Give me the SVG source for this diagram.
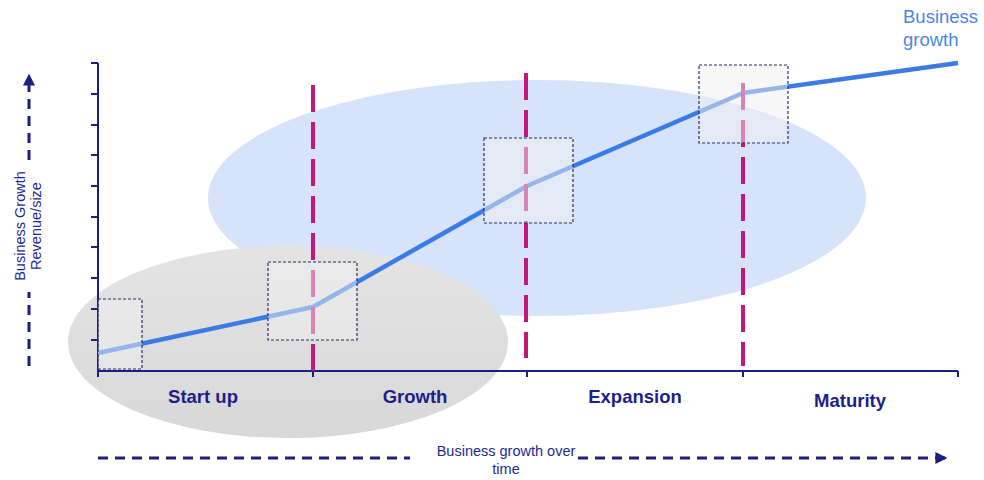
<svg xmlns="http://www.w3.org/2000/svg" width="984" height="480" viewBox="0 0 984 480">
  <defs>
    <linearGradient id="greyFill" x1="0" y1="0" x2="0" y2="1">
      <stop offset="0" stop-color="#e4e4e4"/>
      <stop offset="1" stop-color="#d8d8d8"/>
    </linearGradient>
    <marker id="navyHead" viewBox="0 0 10 10" refX="8" refY="5" markerWidth="4" markerHeight="4" orient="auto" markerUnits="strokeWidth">
      <path d="M0,0 L10,5 L0,10 Z" fill="#1a1f86"/>
    </marker>
    <style>
      .axis { stroke: #1a1f86; stroke-width: 2; fill: none; }
      .tick { stroke: #1a1f86; stroke-width: 2; }
      .phase { stroke: #c2187a; stroke-width: 4; stroke-dasharray: 27 10; fill: none; }
      .focus { fill: #f0f0f0; fill-opacity: 0.5; stroke: #2b2d66; stroke-width: 1.2; stroke-dasharray: 3 2; }
      .flow { stroke: #1a1f86; stroke-width: 3; stroke-dasharray: 10 7; fill: none; }
      .stage { font-family: "Liberation Sans", Arial, sans-serif; font-weight: bold; font-size: 18.5px; fill: #1c1f8a; text-anchor: middle; }
      .small { font-family: "Liberation Sans", Arial, sans-serif; font-size: 14.5px; fill: #1c2a96; text-anchor: middle; }
    </style>
  </defs>
  <rect width="984" height="480" fill="#ffffff"/>

  <!-- background zones -->
  <g id="zones">
    <ellipse id="zone-expansion" cx="537" cy="198" rx="329" ry="118" fill="#d6e3fa"/>
    <ellipse id="zone-startup" cx="288" cy="342" rx="220" ry="96" fill="url(#greyFill)"/>
  </g>

  <!-- axes -->
  <g id="axes">
    <path class="axis" d="M98,63 V371 H958"/>
    <g class="tick">
      <line x1="91" y1="63" x2="98" y2="63"/>
      <line x1="91" y1="94" x2="98" y2="94"/>
      <line x1="91" y1="125" x2="98" y2="125"/>
      <line x1="91" y1="155" x2="98" y2="155"/>
      <line x1="91" y1="186" x2="98" y2="186"/>
      <line x1="91" y1="217" x2="98" y2="217"/>
      <line x1="91" y1="247" x2="98" y2="247"/>
      <line x1="91" y1="278" x2="98" y2="278"/>
      <line x1="91" y1="309" x2="98" y2="309"/>
      <line x1="91" y1="340" x2="98" y2="340"/>
      <line x1="98" y1="371" x2="98" y2="377"/>
      <line x1="313" y1="371" x2="313" y2="377"/>
      <line x1="527" y1="371" x2="527" y2="377"/>
      <line x1="743" y1="371" x2="743" y2="377"/>
      <line x1="958" y1="371" x2="958" y2="377"/>
    </g>
  </g>

  <!-- growth curve -->
  <g id="curve">
    <polyline points="98,353 313,307 527,186 743,93 958,63" fill="none" stroke="#3a7be6" stroke-width="4.5" stroke-linejoin="round"/>
  </g>

  <!-- phase boundaries and direction arrows -->
  <g id="connectors">
    <line class="phase" x1="313" y1="85" x2="313" y2="371"/>
    <line class="phase" x1="526" y1="73" x2="526" y2="358"/>
    <line class="phase" x1="743" y1="83" x2="743" y2="366"/>
    <path class="flow" d="M29,366 V292"/>
    <path class="flow" d="M29,160 V76" marker-end="url(#navyHead)"/>
    <path class="flow" d="M98,458 H410"/>
    <path class="flow" d="M578,458 H945" marker-end="url(#navyHead)"/>
  </g>

  <g id="box-startup"><rect class="focus" x="98" y="299" width="44" height="70"/></g>
  <g id="box-growth"><rect class="focus" x="268" y="262" width="89" height="78"/></g>
  <g id="box-expansion"><rect class="focus" x="484" y="138" width="89" height="85"/></g>
  <g id="box-maturity"><rect class="focus" x="699" y="65" width="89" height="78"/></g>

  <!-- labels -->
  <g id="stage-startup"><text class="stage" x="203" y="403">Start up</text></g>
  <g id="stage-growth"><text class="stage" x="415" y="403">Growth</text></g>
  <g id="stage-expansion"><text class="stage" x="635" y="403">Expansion</text></g>
  <g id="stage-maturity"><text class="stage" x="850" y="407">Maturity</text></g>

  <g id="label-y">
    <text class="small" transform="translate(25,226) rotate(-90)">Business Growth</text>
    <text class="small" transform="translate(41,226) rotate(-90)">Revenue/size</text>
  </g>
  <g id="label-x">
    <text class="small" x="506" y="456">Business growth over</text>
    <text class="small" x="506" y="474">time</text>
  </g>
  <g id="label-curve">
    <text x="903" y="23" font-family="Liberation Sans, Arial, sans-serif" font-size="18.5" fill="#4a86e8">Business</text>
    <text x="903" y="46" font-family="Liberation Sans, Arial, sans-serif" font-size="18.5" fill="#4a86e8">growth</text>
  </g>
</svg>
